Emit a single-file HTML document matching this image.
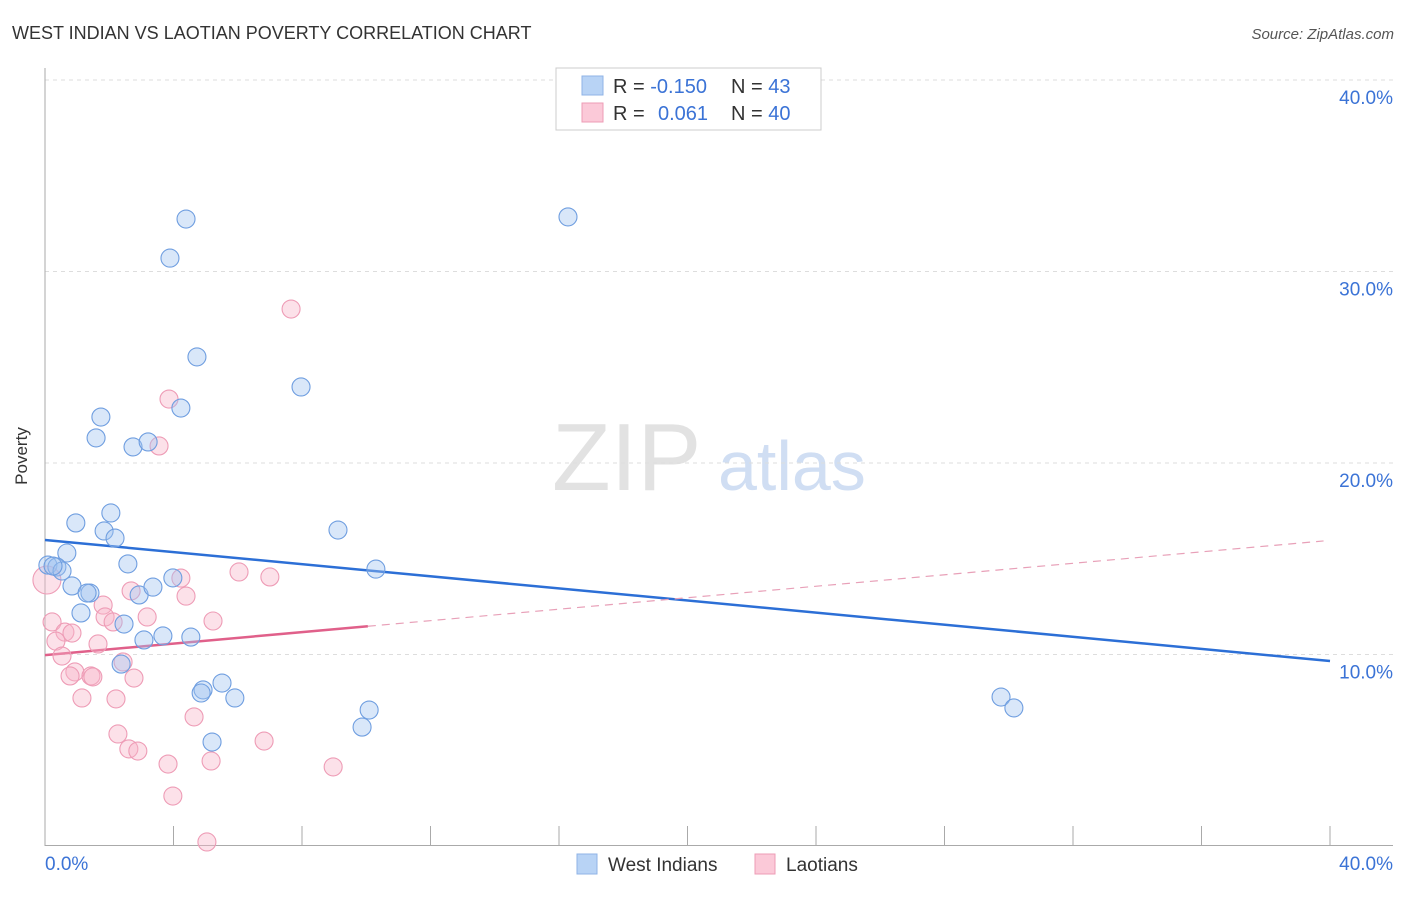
<!DOCTYPE html>
<html><head><meta charset="utf-8"><style>
body{margin:0;background:#fff;font-family:"Liberation Sans",sans-serif}
svg text{font-family:"Liberation Sans",sans-serif}
</style></head><body>
<svg width="1406" height="892">
<text x="12" y="39" font-size="18" fill="#333">WEST INDIAN VS LAOTIAN POVERTY CORRELATION CHART</text>
<text x="1394" y="39" font-size="15" fill="#555" font-style="italic" text-anchor="end">Source: ZipAtlas.com</text>
<g>
<text x="552" y="490" font-size="96" fill="#e2e2e2" font-family="Liberation Serif,serif">ZIP</text>
<text x="718" y="490" font-size="70" fill="#d0def3">atlas</text>
</g>
<g id="grid"></g>
<g id="axes"></g>
<text x="27" y="456" font-size="17" fill="#333" transform="rotate(-90 27 456)" text-anchor="middle">Poverty</text>
<g id="lines"></g>
<g id="pts"></g>
<g>
<rect x="556" y="68" width="265" height="62" fill="#fff" stroke="#ccc"/>
<rect x="582" y="76" width="21" height="19" fill="#b8d3f5" stroke="#8fb3e6"/>
<rect x="582" y="103" width="21" height="19" fill="#fbc9d8" stroke="#ee9cb6"/>
<text x="613" y="93" font-size="20" fill="#333">R = <tspan fill="#3b73d6">-0.150</tspan><tspan x="731">N = </tspan><tspan fill="#3b73d6">43</tspan></text>
<text x="613" y="120" font-size="20" fill="#333">R = <tspan x="658" fill="#3b73d6">0.061</tspan><tspan x="731">N = </tspan><tspan fill="#3b73d6">40</tspan></text>
</g>
<g>
<rect x="577" y="854" width="20" height="20" fill="#b8d3f5" stroke="#8fb3e6"/>
<text x="608" y="871" font-size="19" fill="#333">West Indians</text>
<rect x="755" y="854" width="20" height="20" fill="#fbc9d8" stroke="#ee9cb6"/>
<text x="786" y="871" font-size="19" fill="#333">Laotians</text>
</g>
</svg>
<script>
const blueX=[4.39,16.28,3.89,4.73,7.97,4.23,1.74,1.59,2.74,3.21,0.96,2.05,1.84,2.18,0.68,0.09,0.37,0.53,2.58,0.84,1.40,2.93,3.36,3.98,1.12,2.46,3.67,4.54,3.08,2.37,9.12,10.30,5.51,4.92,4.86,5.91,5.20,10.09,9.87,29.76,30.16,1.31,0.25];
const blueY=[32.74,32.85,30.70,25.54,23.97,22.87,22.40,21.31,20.84,21.10,16.87,17.39,16.45,16.08,15.30,14.67,14.57,14.36,14.73,13.58,13.21,13.11,13.52,14.00,12.17,11.59,10.97,10.91,10.76,9.50,16.50,14.46,8.51,8.15,7.99,7.73,5.43,7.10,6.21,7.78,7.21,13.21,14.62];
const pinkX=[7.66,3.86,3.55,6.04,7.00,4.23,4.39,2.68,1.81,3.18,1.87,2.12,5.23,0.22,0.62,0.84,1.65,0.34,0.53,0.93,0.78,1.43,1.49,2.77,2.43,1.15,2.21,4.64,2.27,2.61,2.89,6.82,3.83,5.17,8.97,3.98,5.04,0.06];
const pinkY=[28.04,23.34,20.89,14.31,14.05,13.99,13.05,13.32,12.58,11.96,11.96,11.70,11.75,11.70,11.17,11.12,10.55,10.70,9.92,9.09,8.88,8.88,8.83,8.77,9.61,7.73,7.68,6.74,5.85,5.07,4.96,5.48,4.28,4.44,4.13,2.61,0.21,13.89];
const yTicks=[10,20,30,40];
const yTickLabels=["10.0%","20.0%","30.0%","40.0%"];
const xTickLabels=["0.0%","40.0%"];
const blueTrend=[15.98,9.66];
const pinkTrend=[9.97,15.93];
const pinkSolidEnd=10.05;
const NS="http://www.w3.org/2000/svg";
const X=v=>45+v*32.125, Y=v=>846-v*19.15;
function el(t,a,p){const e=document.createElementNS(NS,t);for(const k in a)e.setAttribute(k,a[k]);document.getElementById(p).appendChild(e);return e;}
yTicks.forEach((t,i)=>{
 const g=el('line',{x1:45,x2:1393,y1:Y(t),y2:Y(t),stroke:'#ddd','stroke-dasharray':'4,4'},'grid');
 
 
 const l=el('text',{x:1393,y:Y(t)+24,'font-size':19,fill:'#3b73d6','text-anchor':'end'},'grid');
 l.textContent=yTickLabels[i];
 
 
});
const ax=el('line',{x1:45,x2:45,y1:68,y2:846,stroke:'#aaa'},'axes');


const bx=el('line',{x1:45,x2:1393,y1:845.5,y2:845.5,stroke:'#aaa'},'axes');


for(let i=1;i<=10;i++){const t=el('line',{x1:X(i*4),x2:X(i*4),y1:826,y2:846,stroke:'#aaa'},'axes');
 
 }
[[0,'start',45],[40,'end',1393]].forEach((d,i)=>{const t=el('text',{x:d[2],y:870,'font-size':19,fill:'#3b73d6','text-anchor':d[1]},'axes');t.textContent=xTickLabels[i];
 
 });
function dot(x,y,r,f,s,n){const c=el('circle',{cx:X(x),cy:Y(y),r:r,fill:f,stroke:s,'stroke-width':1.1},'pts');
 
 }
pinkX.forEach((x,i)=>dot(x,pinkY[i],i==pinkX.length-1?14:9,'rgba(248,180,200,0.4)','#ee9cb6','laotian-point'));
blueX.forEach((x,i)=>dot(x,blueY[i],9,'rgba(160,195,240,0.4)','#6f9ee0','west-indian-point'));
const bl=el('line',{x1:X(0),y1:Y(blueTrend[0]),x2:X(40),y2:Y(blueTrend[1]),stroke:'#2c6fd6','stroke-width':2.5},'lines');


const py=x=>pinkTrend[0]+(pinkTrend[1]-pinkTrend[0])*x/39.8;
const pd=el('line',{x1:X(pinkSolidEnd),y1:Y(py(pinkSolidEnd)),x2:X(39.8),y2:Y(pinkTrend[1]),stroke:'#e8a0b8','stroke-width':1.2,'stroke-dasharray':'8,6'},'lines');


const ps=el('line',{x1:X(0),y1:Y(pinkTrend[0]),x2:X(pinkSolidEnd),y2:Y(py(pinkSolidEnd)),stroke:'#e0608a','stroke-width':2.5},'lines');


</script>
</body></html>
